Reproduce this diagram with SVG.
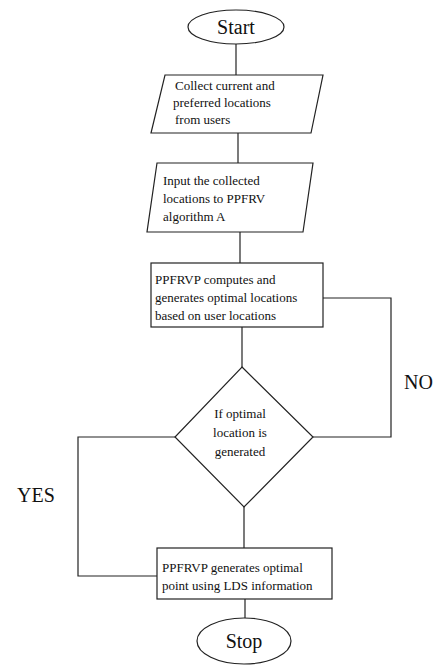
<svg xmlns="http://www.w3.org/2000/svg" width="439" height="666" viewBox="0 0 439 666">
<style>
.s{fill:#fff;stroke:#222;stroke-width:1.2}
.c{fill:none;stroke:#222;stroke-width:1.2}
.t{font-family:"Liberation Serif","Times New Roman",serif;font-size:13px;fill:#111}
.b{font-family:"Liberation Serif","Times New Roman",serif;font-size:20px;fill:#111}
</style>
<rect width="439" height="666" fill="#fff"/>
<g id="connectors">
<path class="c" d="M236,44 V75"/>
<path class="c" d="M238,133 V163"/>
<path class="c" d="M240,232 V263"/>
<path class="c" d="M242,327 V367"/>
<path class="c" d="M323,298 H391 V437 H313"/>
<path class="c" d="M244,507 V548"/>
<path class="c" d="M175,437 H78 V576 H157"/>
<path class="c" d="M245,599 V618"/>
<text class="b" x="404" y="389">NO</text>
<text class="b" x="17" y="502">YES</text>
</g>
<g id="start">
<ellipse class="s" cx="236" cy="27" rx="48" ry="17"/>
<text class="b" x="236" y="34" text-anchor="middle">Start</text>
</g>
<g id="collect">
<polygon class="s" points="165,75 323,75 311,133 151,133"/>
<text class="t" x="175" y="90">Collect current and</text>
<text class="t" x="173" y="107">preferred locations</text>
<text class="t" x="175" y="124"> from users</text>
</g>
<g id="input">
<polygon class="s" points="157,163 313,163 303,232 147,232"/>
<text class="t" x="163" y="185">Input the collected</text>
<text class="t" x="163" y="203">locations to PPFRV</text>
<text class="t" x="163" y="221">algorithm A</text>
</g>
<g id="compute">
<rect class="s" x="151" y="263" width="172" height="64"/>
<text class="t" x="155" y="284">PPFRVP computes and</text>
<text class="t" x="155" y="302">generates optimal locations</text>
<text class="t" x="155" y="320">based on user locations</text>
</g>
<g id="decision">
<polygon class="s" points="242,367 313,437 244,507 175,437"/>
<text class="t" x="240" y="418" text-anchor="middle">If optimal</text>
<text class="t" x="240" y="437" text-anchor="middle">location is</text>
<text class="t" x="240" y="456" text-anchor="middle">generated</text>
</g>
<g id="generate">
<rect class="s" x="157" y="548" width="175" height="51"/>
<text class="t" x="162" y="572">PPFRVP generates optimal</text>
<text class="t" x="162" y="590">point using LDS information</text>
</g>
<g id="stop">
<ellipse class="s" cx="244" cy="641" rx="47" ry="23"/>
<text class="b" x="244" y="648" text-anchor="middle">Stop</text>
</g>
</svg>
